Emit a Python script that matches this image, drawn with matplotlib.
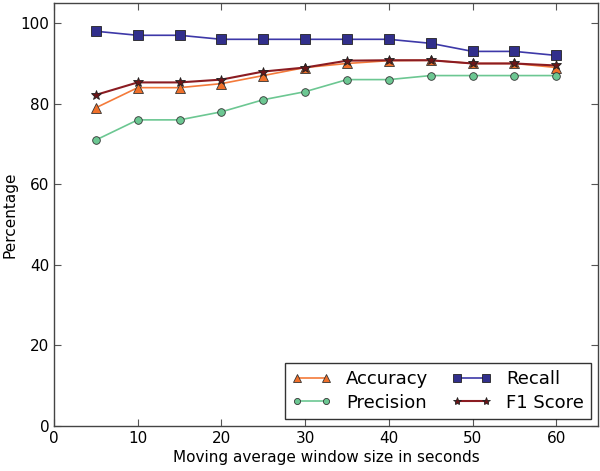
import matplotlib
matplotlib.use("Agg")
import matplotlib.pyplot as plt

window = [5, 10, 15, 20, 25, 30, 35, 40, 45, 50, 55, 60]
accuracy = [79, 84, 84, 85, 87, 89, 90, 90.7, 90.8, 90, 90, 89]
precision = [71, 76, 76, 78, 81, 83, 86, 86, 87, 87, 87, 87]
recall = [98, 97, 97, 96, 96, 96, 96, 96, 95, 93, 93, 92]
f1 = [82.2, 85.3, 85.3, 86, 88, 89, 90.7, 90.8, 90.8, 90, 90, 89.5]

x_ticks = [0, 10, 20, 30, 40, 50, 60]
y_ticks = [0, 20, 40, 60, 80, 100]

fig = plt.figure(figsize=(6, 4.71), dpi=100)
ax = fig.add_axes([0.09, 0.0955, 0.907, 0.898])

ax.plot(window, accuracy, color="#f47a3a", marker="^", markersize=6.5,
        markerfacecolor="#f0702a", markeredgecolor="#333333", markeredgewidth=0.6,
        linewidth=1.2, label="Accuracy")
ax.plot(window, precision, color="#6cc792", marker="o", markersize=5.5,
        markerfacecolor="#6cc792", markeredgecolor="#333333", markeredgewidth=0.6,
        linewidth=1.2, label="Precision")
ax.plot(window, recall, color="#3d38a8", marker="s", markersize=6.5,
        markerfacecolor="#312f8c", markeredgecolor="#222222", markeredgewidth=0.6,
        linewidth=1.2, label="Recall")
ax.plot(window, f1, color="#8b1c22", marker="*", markersize=7.5,
        markerfacecolor="#6b1518", markeredgecolor="#222222", markeredgewidth=0.6,
        linewidth=1.5, label="F1 Score")

ax.set_xlim(0, 65)
ax.set_ylim(0, 105)
ax.set_xticks(x_ticks)
ax.set_yticks(y_ticks)
ax.tick_params(direction="in", top=True, right=True, labelsize=11, length=5, color="#555555")
for s in ax.spines.values():
    s.set_color("#444444")
    s.set_linewidth(1.0)

ax.set_xlabel("Moving average window size in seconds", fontsize=11, labelpad=3)
ax.set_ylabel("Percentage", fontsize=11, labelpad=2)

leg = ax.legend(loc="lower right", ncol=2, numpoints=2, fontsize=13,
                frameon=True, fancybox=False, edgecolor="black", markerscale=0.8,
                handlelength=2.2, columnspacing=1.3, borderaxespad=0.4,
                borderpad=0.4, labelspacing=0.3)
leg.get_frame().set_linewidth(1.0)

fig.savefig("out.png", dpi=100)
